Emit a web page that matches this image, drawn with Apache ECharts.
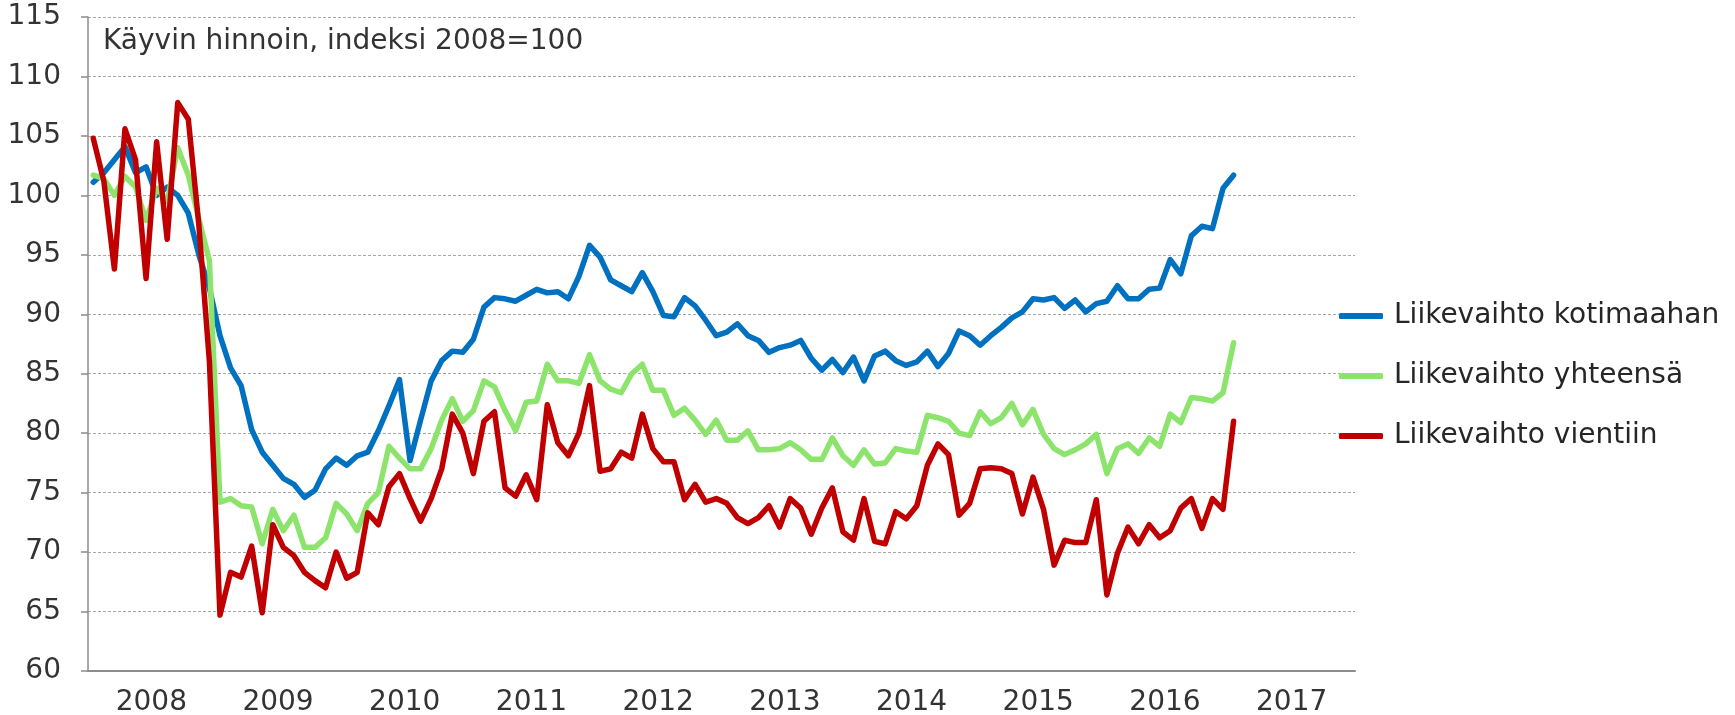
<!DOCTYPE html>
<html style="height: 100%">
<head>
<meta charset="utf-8">
<script src="https://cdn.jsdelivr.net/npm/echarts@6/dist/echarts.min.js"></script>
</head>
<body style="height: 100%; margin: 0; background: #fff">
<div id="container" style="width: 1735px; height: 715px"></div>
<script type="text/javascript">
// vuodet ja kuukausiluokat
var years = ['2008', '2009', '2010', '2011', '2012', '2013', '2014', '2015', '2016', '2017'];
var months = [];
years.forEach(function (y) {
  for (var m = 1; m <= 12; m++) months.push(y + '-' + (m < 10 ? '0' + m : m));
});

var seriesNames = ['Liikevaihto kotimaahan', 'Liikevaihto yhteensä', 'Liikevaihto vientiin'];

// 1/2008 - 1/2017
var kotimaahan = [
  101.1, 101.9, 103.0, 104.1, 101.9, 102.4, 100.0, 100.7, 100.0, 98.5, 95.0, 92.2,
  88.2, 85.5, 84.0, 80.3, 78.4, 77.3, 76.2, 75.7, 74.6, 75.2, 77.0, 77.9,
  77.3, 78.1, 78.4, 80.2, 82.3, 84.5, 77.7, 81.1, 84.4, 86.1, 86.9, 86.8,
  87.9, 90.6, 91.4, 91.3, 91.1, 91.6, 92.1, 91.8, 91.9, 91.3, 93.2, 95.8,
  94.8, 92.9, 92.4, 91.9, 93.5, 91.9, 89.9, 89.8, 91.4, 90.7, 89.5, 88.2,
  88.5, 89.2, 88.2, 87.8, 86.8, 87.2, 87.4, 87.8, 86.3, 85.3, 86.2, 85.1,
  86.4, 84.4, 86.5, 86.9, 86.1, 85.7, 86.0, 86.9, 85.6, 86.7, 88.6, 88.2,
  87.4, 88.2, 88.9, 89.7, 90.2, 91.3, 91.2, 91.4, 90.5, 91.2, 90.2, 90.9,
  91.1, 92.4, 91.3, 91.3, 92.1, 92.2, 94.6, 93.4, 96.6, 97.4, 97.2, 100.6,
  101.7
];
var yhteensa = [
  101.7, 101.4, 100.0, 101.6, 100.7, 97.9, 100.6, 99.5, 104.0, 101.7, 98.0, 94.5,
  74.2, 74.5, 73.9, 73.8, 70.7, 73.6, 71.8, 73.1, 70.4, 70.4, 71.2, 74.1,
  73.2, 71.8, 74.1, 75.0, 78.9, 77.9, 77.0, 77.0, 78.7, 81.1, 82.9, 81.0,
  81.9, 84.4, 83.9, 81.9, 80.2, 82.6, 82.7, 85.8, 84.4, 84.4, 84.2, 86.6,
  84.4, 83.7, 83.4, 85.0, 85.8, 83.6, 83.6, 81.5, 82.1, 81.1, 79.9, 81.1,
  79.4, 79.4, 80.2, 78.6, 78.6, 78.7, 79.2, 78.6, 77.8, 77.8, 79.6, 78.1,
  77.3, 78.6, 77.4, 77.5, 78.7, 78.5, 78.4, 81.5, 81.3, 81.0, 80.0, 79.8,
  81.8, 80.8, 81.3, 82.5, 80.7, 82.0, 79.9, 78.7, 78.2, 78.6, 79.1, 79.9,
  76.6, 78.7, 79.1, 78.3, 79.6, 78.9, 81.6, 80.9, 83.0, 82.9, 82.7, 83.4,
  87.6
];
var vientiin = [
  104.8, 101.2, 93.8, 105.6, 103.0, 93.0, 104.5, 96.3, 107.8, 106.4, 97.5, 86.0,
  64.7, 68.3, 67.9, 70.5, 64.9, 72.3, 70.4, 69.7, 68.3, 67.6, 67.0, 70.0,
  67.8, 68.3, 73.3, 72.3, 75.5, 76.6, 74.5, 72.6, 74.5, 77.0, 81.6, 80.0,
  76.6, 81.0, 81.8, 75.4, 74.7, 76.5, 74.4, 82.4, 79.2, 78.1, 80.0, 84.0,
  76.8, 77.0, 78.4, 77.9, 81.6, 78.7, 77.6, 77.6, 74.4, 75.7, 74.2, 74.5,
  74.1, 72.9, 72.4, 72.9, 73.9, 72.1, 74.5, 73.7, 71.5, 73.7, 75.4, 71.7,
  71.0, 74.5, 70.9, 70.7, 73.4, 72.8, 73.9, 77.3, 79.1, 78.2, 73.1, 74.1,
  77.0, 77.1, 77.0, 76.6, 73.2, 76.3, 73.6, 68.9, 71.0, 70.8, 70.8, 74.4,
  66.4, 69.9, 72.1, 70.7, 72.3, 71.2, 71.8, 73.7, 74.5, 72.0, 74.5, 73.6,
  81.0
];
var colors = ['#0070c0', '#8ce46c', '#c00000'];

var font = 'DejaVu Sans';
var dom = document.getElementById('container');
var myChart = echarts.init(dom);

function lineSeries(name, data, color) {
  return {
    name: name,
    type: 'line',
    xAxisIndex: 0,
    data: data,
    showSymbol: false,
    symbol: 'none',
    animation: false,
    color: color,
    lineStyle: { width: 5.5, color: color, join: 'round', cap: 'round' }
  };
}

option = {
  animation: false,
  color: colors,
  title: {
    text: 'Käyvin hinnoin, indeksi 2008=100',
    left: 98,
    top: 22,
    textStyle: { fontFamily: font, fontSize: 28, fontWeight: 'normal', color: '#333', lineHeight: 30 }
  },
  legend: {
    orient: 'vertical',
    left: 1334,
    top: 296,
    itemWidth: 44,
    itemHeight: 6,
    itemGap: 30,
    icon: 'roundRect',
    data: seriesNames,
    textStyle: { fontFamily: font, fontSize: 28, color: '#262626', lineHeight: 30, padding: [0, 0, 0, 6] }
  },
  grid: { left: 88, right: 380, top: 17, bottom: 44, outerBoundsMode: 'none' },
  xAxis: [
    {
      type: 'category',
      data: months,
      boundaryGap: true,
      show: false
    },
    {
      type: 'category',
      data: years,
      boundaryGap: true,
      position: 'bottom',
      axisLine: { lineStyle: { color: '#8c8c8c', width: 2 } },
      axisTick: { length: 8, lineStyle: { color: '#8c8c8c', width: 1.5 } },
      axisLabel: { fontFamily: font, fontSize: 28, color: '#333', margin: 18 },
      splitLine: { show: false }
    }
  ],
  yAxis: {
    type: 'value',
    min: 60,
    max: 115,
    interval: 5,
    axisLine: { show: true, lineStyle: { color: '#8c8c8c', width: 1.5 } },
    axisTick: { show: true, length: 7, lineStyle: { color: '#8c8c8c', width: 1.5 } },
    axisLabel: { fontFamily: font, fontSize: 28, color: '#333', margin: 27 },
    splitLine: { lineStyle: { color: '#a6a6a6', width: 1, type: [3, 2] } }
  },
  series: [
    lineSeries(seriesNames[0], kotimaahan, colors[0]),
    lineSeries(seriesNames[1], yhteensa, colors[1]),
    lineSeries(seriesNames[2], vientiin, colors[2])
  ]
};

myChart.setOption(option);
</script>
</body>
</html>
